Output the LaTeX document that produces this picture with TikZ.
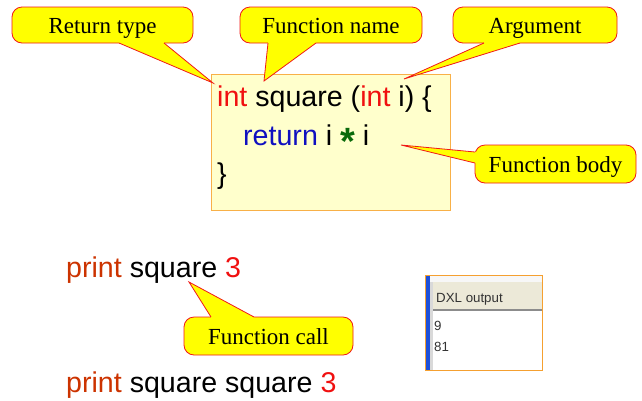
\documentclass[tikz,border=0pt]{standalone}
\usepackage{fontspec}
\setmainfont{Liberation Serif}
\newfontfamily\codefont{Liberation Sans}
\definecolor{intred}{HTML}{F01010}
\definecolor{retblue}{HTML}{1010C0}
\definecolor{stargreen}{HTML}{0A6A0A}
\definecolor{printred}{HTML}{CC3300}
\definecolor{codefill}{HTML}{FFFFCC}
\definecolor{codeborder}{HTML}{F8B048}
\definecolor{callyellow}{HTML}{FFFF00}
\definecolor{callred}{HTML}{F01818}
\definecolor{winblue}{HTML}{1E50D8}
\definecolor{winbeige}{HTML}{ECE9D8}
\definecolor{winborder}{HTML}{F5A030}
\begin{document}
\begin{tikzpicture}[x=1pt,y=-1pt,
  callbox/.style={draw=callred, fill=callyellow, line width=0.8pt, rounded corners=10pt,
    inner sep=0pt, text height=16pt, text depth=0pt, font=\fontsize{23}{23}\selectfont},
  tailfill/.style={fill=callyellow},
  tailedge/.style={draw=callred, line width=0.8pt, line join=miter},
  codetext/.style={inner sep=0pt, anchor=base west, font=\codefont\fontsize{28.6}{28.6}\selectfont},
  wintext/.style={inner sep=0pt, anchor=base west, text=black!80, font=\codefont\fontsize{13.3}{13.3}\selectfont}]
\useasboundingbox (0,0) rectangle (642,400);

% code box
\node[draw=codeborder, fill=codefill, line width=0.8pt, minimum width=239pt, minimum height=136pt, inner sep=0pt] (code) at (330.5,142.5) {};
\node[codetext] (l1) at (217,106) {\textcolor{intred}{int} square (\textcolor{intred}{int} i) \{};
\node[codetext] (l2) at (243,145) {\textcolor{retblue}{return} i \textcolor{stargreen}{\raisebox{-9pt}{\fontsize{38}{38}\selectfont\textbf{*}}} i};
\node[codetext] (l3) at (217,183) {\}};

% tips
\coordinate (rtT) at (213,83);
\coordinate (fnT) at (264,81);
\coordinate (argT) at (404,79);
\coordinate (fbT) at (401,145);
\coordinate (fcT) at (189,282);

% Return type
\node[callbox, minimum width=181pt, minimum height=36pt] (rt) at (102.5,25) {Return type};
\coordinate (rtA) at (119,43); \coordinate (rtB) at (164,43);
\fill[tailfill] (119,41.5) -- (164,41.5) -- (rtB) -- (rtT) -- (rtA) -- cycle;
\draw[tailedge] (rtA) -- (rtT) -- (rtB);

% Function name
\node[callbox, minimum width=182pt, minimum height=36pt] (fn) at (331,25) {Function name};
\coordinate (fnA) at (268,43); \coordinate (fnB) at (316,43);
\fill[tailfill] (268,41.5) -- (316,41.5) -- (fnB) -- (fnT) -- (fnA) -- cycle;
\draw[tailedge] (fnA) -- (fnT) -- (fnB);

% Argument
\node[callbox, minimum width=164pt, minimum height=36pt] (arg) at (535,25) {Argument};
\coordinate (argA) at (484,43); \coordinate (argB) at (520,43);
\fill[tailfill] (484,41.5) -- (520,41.5) -- (argB) -- (argT) -- (argA) -- cycle;
\draw[tailedge] (argA) -- (argT) -- (argB);

% Function body
\node[callbox, minimum width=161pt, minimum height=38pt] (fb) at (555.5,164) {Function body};
\coordinate (fbA) at (475,152); \coordinate (fbB) at (475,163);
\fill[tailfill] (476.5,152) -- (476.5,163) -- (fbB) -- (fbT) -- (fbA) -- cycle;
\draw[tailedge] (fbA) -- (fbT) -- (fbB);

% print lines
\node[codetext] (p1) at (66,277) {\textcolor{printred}{print} square \textcolor{intred}{3}};
\node[codetext] (p2) at (66,392) {\textcolor{printred}{print} square square \textcolor{intred}{3}};

% Function call
\node[callbox, minimum width=169pt, minimum height=38pt] (fc) at (268.5,336) {Function call};
\coordinate (fcA) at (211,317); \coordinate (fcB) at (254,317);
\fill[tailfill] (211,318.5) -- (254,318.5) -- (fcB) -- (fcT) -- (fcA) -- cycle;
\draw[tailedge] (fcA) -- (fcT) -- (fcB);

% DXL output window
\fill[white] (425,275) rectangle (542,370);
\fill[black!3] (430,276) rectangle (542,282);
\draw[black!25, line width=0.6pt] (430,282) -- (542,282);
\fill[winbeige] (430,282.3) rectangle (542,309);
\draw[black!45, line width=1.4pt] (430,310) -- (542,310);
\fill[black!15] (430,282) rectangle (432.5,370);
\fill[winblue] (425,275) rectangle (430,370);
\draw[winborder, line width=0.8pt] (425,275) rectangle (542,370);
\node[wintext] (dxl) at (436,302) {DXL output};
\node[wintext] (o1) at (434,330) {9};
\node[wintext] (o2) at (434,351) {81};
\end{tikzpicture}
\end{document}
